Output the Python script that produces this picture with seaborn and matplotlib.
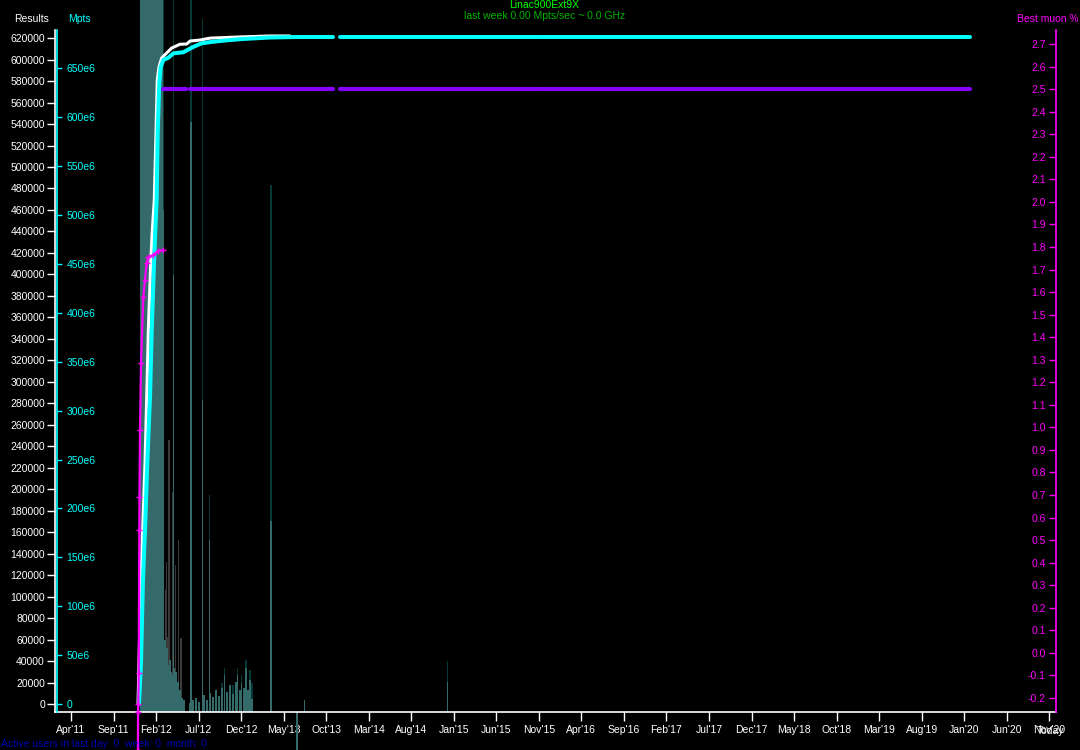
import matplotlib
matplotlib.use("Agg")
import matplotlib.pyplot as plt
import matplotlib.ticker as mticker
import numpy as np
import pandas as pd
import seaborn as sns

# x values are months counted from Jan 2011 (0 = Jan'11)
tick_months = [3, 8, 13, 18, 23, 28, 33, 38, 43, 48, 53, 58, 63, 68, 73, 78, 83, 88, 93, 98, 103, 108, 113, 118]
tick_labels = ["Apr'11", "Sep'11", "Feb'12", "Jul'12", "Dec'12", "May'13", "Oct'13", "Mar'14",
               "Aug'14", "Jan'15", "Jun'15", "Nov'15", "Apr'16", "Sep'16", "Feb'17", "Jul'17",
               "Dec'17", "May'18", "Oct'18", "Mar'19", "Aug'19", "Jan'20", "Jun'20", "Nov'20"]

# cumulative results (white)
results_month = [10.88, 10.99, 11.23, 11.43, 11.70, 11.90, 12.09, 12.37, 12.56, 12.79, 12.99, 13.14,
                 13.34, 13.66, 14.25, 14.84, 15.81, 16.60, 16.99, 18.16, 19.34, 22.48, 26.39, 28.74]
results_value = [0, 38200, 115500, 162000, 224400, 285800, 348200, 410600, 441300, 469300, 531700, 581000,
                 593100, 601500, 606200, 610800, 614300, 614500, 617300, 618200, 620000, 621000, 622000, 622000]

# cumulative Mpts (cyan), in units of 1e6
mpts_month = [10.99, 11.23, 11.46, 11.70, 11.97, 12.29, 12.49, 12.76, 12.91, 13.07, 13.19, 13.38, 13.54,
              13.85, 14.44, 15.03, 16.20, 17.19, 18.36, 19.73, 21.69, 23.25, 26.39, 29.53, 33.8,
              34.6, 58.1, 58.3, 108.68]
mpts_value = [0, 41.9, 126.7, 178.3, 246.4, 313.9, 382.4, 450.9, 484.7, 515.3, 583.8, 635.0, 651.3,
              658.5, 660.8, 665.3, 666.4, 671.1, 675.6, 677.2, 678.9, 680.0, 681.5, 682.0, 682.0,
              682.0, 682.0, 682.0, 682.0]
mpts_seg = [0] * 25 + [1, 1, 2, 2]

# best muon % early phase (magenta)
muon_month = [10.87, 10.88, 10.91, 10.96, 11.03, 11.05, 11.11, 11.23, 11.50, 11.70, 11.90, 12.09, 12.67, 13.26, 13.80]
muon_value = [-0.43, -0.26, -0.226, -0.087, 0.545, 0.691, 0.989, 1.286, 1.578, 1.654, 1.729, 1.756, 1.764, 1.782, 1.787]

# best muon % later (purple)
best_month = [13.80, 16.52, 16.99, 33.8, 34.6, 58.1, 58.3, 108.68]
best_value = [2.5, 2.5, 2.5, 2.5, 2.5, 2.5, 2.5, 2.5]
best_seg = [0, 0, 1, 1, 2, 2, 3, 3]

# activity histogram
block_left = [11.11]
block_width = [2.72]
block_height = [700000]

bar_month = [13.93, 14.05, 14.17, 14.28, 14.40, 14.52, 14.64, 14.76, 14.87, 14.99, 15.11, 15.23, 15.34,
             15.46, 15.58, 15.70, 15.81, 15.93, 16.05, 16.17, 16.28,
             16.99, 17.34, 17.69, 18.05, 18.63, 18.99, 19.34, 19.69, 20.05, 20.40, 20.75, 21.04, 21.34,
             21.69, 22.04, 22.40, 22.60, 22.87, 23.07, 23.34, 23.57, 23.81, 24.04]
bar_teal = [45600, 59600, 41000, 52100, 36300, 31700, 41000, 29800, 27000, 22300, 33500, 17700, 29800,
            13000, 20500, 8400, 13000, 3700, 5600, 900, 3700,
            900, 3700, 5600, 1900, 8400, 3700, 10200, 6500, 13000, 7400, 14900, 27000, 11200,
            17700, 9300, 20500, 27000, 13000, 19600, 14900, 33500, 13000, 22300]

gray_month = [14.13, 14.25, 14.37, 14.52, 14.72, 14.91, 15.31, 15.61, 15.93]
gray_height = [106100, 132200, 62400, 245800, 41000, 197400, 129400, 152700, 61500]

dark_month = [20.75, 21.04, 22.04, 22.60, 23.07, 23.57, 24.04]
dark_height = [20000, 33500, 18000, 33500, 27000, 41000, 31700]

spike_month = [13.85, 15.03, 17.11, 18.43, 19.26, 24.28, 26.51, 30.45, 47.23]
spike_dark = [700000, 700000, 700000, 637800, 194600, 19600, 483200, 3700, 40000]
spike_teal = [460000, 399400, 541900, 283000, 152700, 4700, 170400, 3700, 20500]

below_month = [29.57]
below_value = [-35400]

# axis scales (pixel-matched)
res_lo, res_hi, res_spine = -7449, 655494, 627561
mp_lo, mp_hi, mp_spine = -8.18, 719.84, 689.2
mu_lo, mu_hi, mu_spine = -0.262, 2.895, 2.762
x_lo, x_hi = 1.119, 118.79

sns.set_theme(style="dark", rc={"axes.facecolor": "black", "figure.facecolor": "black",
                                "savefig.facecolor": "black", "axes.grid": False})
plt.rcParams['font.family'] = ['Liberation Sans', 'DejaVu Sans']
fs = 7.5

fig = plt.figure(figsize=(10.8, 7.5), dpi=100)
ax = fig.add_axes([55 / 1080, 38 / 750, 1001 / 1080, 712 / 750])
ax.set_facecolor("black")

teal = "#346a6a"
dark = "#073838"
gray = "#3a3a3a"

ax.bar(block_left, block_height, width=block_width, bottom=res_lo, align="edge", color=teal, linewidth=0, zorder=1)
ax.bar(spike_month, np.array(spike_dark) - res_lo, width=0.14, bottom=res_lo, color=dark, linewidth=0, zorder=1)
ax.bar(gray_month, np.array(gray_height) - res_lo, width=0.13, bottom=res_lo, color=gray, linewidth=0, zorder=1)
ax.bar(dark_month, np.array(dark_height) - res_lo, width=0.13, bottom=res_lo, color=dark, linewidth=0, zorder=1)
ax.bar(bar_month, np.array(bar_teal) - res_lo, width=0.13, bottom=res_lo, color=teal, linewidth=0, zorder=2)
ax.bar(spike_month, np.array(spike_teal) - res_lo, width=0.14, bottom=res_lo, color=teal, linewidth=0, zorder=2)
ax.bar(below_month, below_value, width=0.14, bottom=res_lo, color=teal, linewidth=0, zorder=2, clip_on=False)

res_df = pd.DataFrame({"month": results_month, "value": results_value})
sns.lineplot(data=res_df, x="month", y="value", color="white", lw=2.2, ax=ax, legend=False, zorder=5)

ax.set_xlim(x_lo, x_hi)
ax.set_ylim(res_lo, res_hi)
ax.set_xlabel("")
ax.set_ylabel("")
for s in ["top", "right"]:
    ax.spines[s].set_visible(False)
ax.spines["left"].set_color("white")
ax.spines["bottom"].set_color("white")
ax.spines["left"].set_linewidth(1.2)
ax.spines["bottom"].set_linewidth(1.2)
ax.spines["left"].set_bounds(res_lo, res_spine)
ax.set_yticks(np.arange(0, 620001, 20000))
ax.yaxis.set_major_formatter(mticker.FuncFormatter(lambda v, p: f"{int(v)}"))
ax.set_xticks(tick_months)
ax.set_xticklabels(tick_labels)
ax.tick_params(axis="y", colors="white", direction="out", length=5.8, width=1, pad=1.4, labelsize=fs, left=True)
ax.tick_params(axis="x", colors="white", direction="out", length=6.5, width=1, pad=2.6, labelsize=fs, bottom=True)

# Mpts axis
ax2 = ax.twinx()
mp_df = pd.DataFrame({"month": mpts_month, "value": mpts_value, "seg": mpts_seg})
sns.lineplot(data=mp_df, x="month", y="value", units="seg", estimator=None, color="#00ffff", lw=2.9,
             ax=ax2, legend=False)
ax2.set_ylim(mp_lo, mp_hi)
ax2.set_xlim(x_lo, x_hi)
ax2.set_ylabel("")
for s in ["top", "left", "bottom"]:
    ax2.spines[s].set_visible(False)
ax2.spines["right"].set_position(("axes", 2 / 1001))
ax2.spines["right"].set_color("#00ffff")
ax2.spines["right"].set_linewidth(1.2)
ax2.spines["right"].set_bounds(mp_lo, mp_spine)
ax2.set_yticks(np.arange(0, 651, 50))
ax2.yaxis.set_major_formatter(mticker.FuncFormatter(lambda v, p: "0" if v == 0 else f"{int(v)}e6"))
ax2.tick_params(axis="y", colors="#00ffff", direction="out", length=3.6, width=1, pad=3.2, labelsize=fs, right=True)

# best muon axis
ax3 = ax.twinx()
mu_df = pd.DataFrame({"month": muon_month, "value": muon_value})
sns.lineplot(data=mu_df, x="month", y="value", color="#ff00ff", lw=1.6, marker="+", ms=4, mew=1,
             mec="#ff00ff", mfc="#ff00ff", ax=ax3, legend=False, clip_on=False)
best_df = pd.DataFrame({"month": best_month, "value": best_value, "seg": best_seg})
sns.lineplot(data=best_df, x="month", y="value", units="seg", estimator=None, color="#8800ff", lw=3,
             ax=ax3, legend=False)
ax3.set_ylim(mu_lo, mu_hi)
ax3.set_xlim(x_lo, x_hi)
ax3.set_ylabel("")
ax3.yaxis.set_ticks_position("left")
for s in ["top", "right", "bottom"]:
    ax3.spines[s].set_visible(False)
ax3.spines["left"].set_visible(True)
ax3.spines["left"].set_position(("axes", 1.0))
ax3.spines["left"].set_color("#ff00ff")
ax3.spines["left"].set_linewidth(1.2)
ax3.spines["left"].set_bounds(mu_lo, mu_spine)
ax3.set_yticks(np.round(np.arange(-0.2, 2.71, 0.1), 1))
ax3.yaxis.set_major_formatter(mticker.FuncFormatter(lambda v, p: f"{v:.1f}"))
ax3.tick_params(axis="y", colors="#ff00ff", direction="out", length=5, width=1, pad=2.2, labelsize=fs, left=True)

# texts
def px(x, y):
    return x / 1080, 1 - y / 750

fig.text(*px(544, 5), "Linac900Ext9X", color="#00ff00", fontsize=fs, ha="center", va="center")
fig.text(*px(545, 16), "last week 0.00 Mpts/sec ~ 0.0 GHz", color="#00b400", fontsize=fs, ha="center", va="center")
fig.text(*px(32, 19), "Results", color="white", fontsize=fs, ha="center", va="center")
fig.text(*px(79, 19), "Mpts", color="#00ffff", fontsize=fs, ha="center", va="center")
fig.text(*px(1048, 19), "Best muon %", color="#ff00ff", fontsize=fs, ha="center", va="center")
fig.text(*px(1051, 731), "Today", color="white", fontsize=fs, ha="center", va="center")
fig.text(*px(1, 744), "Active users in last day: 0  week: 0  month: 0", color="#0000b0", fontsize=fs,
         ha="left", va="center")

fig.savefig("out.png", dpi=100, facecolor="black")
